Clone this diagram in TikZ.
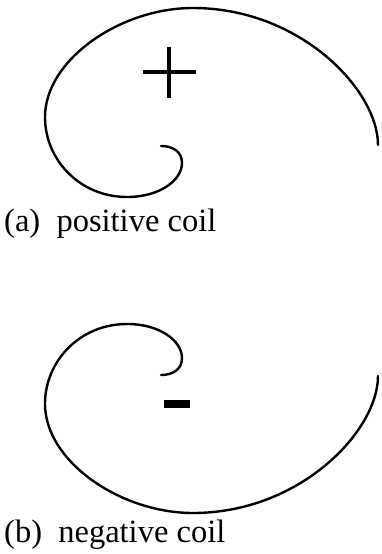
\documentclass[tikz,border=0pt]{standalone}
\usepackage{fontspec}
\setmainfont{Liberation Serif}
\tikzset{
  coilline/.style={line width=2.4pt, line join=round, line cap=round},
  caption/.style={anchor=base west, inner sep=0pt, font=\fontsize{32.5}{36}\selectfont},
}
\newcommand{\coilpath}{(378,145) .. controls (378,90) and (300,8) .. (193,8)
  .. controls (120,8) and (45,60) .. (45,117)
  .. controls (45,160) and (80,197) .. (127,197)
  .. controls (160,197) and (182,180) .. (182,163)
  .. controls (182,151) and (172,146) .. (161,146)}
\begin{document}
\begin{tikzpicture}[x=1pt,y=-1pt]
\useasboundingbox (0,0) rectangle (381,554);
% (a) positive coil
\draw[coilline] \coilpath;
\draw[line width=3.4pt] (143,72) -- (196,72);
\draw[line width=3.4pt] (169,47) -- (169,98);
\node[caption] (capa) at (4,231) {(a)~~positive coil};
% (b) negative coil
\begin{scope}[shift={(0,521)}, yscale=-1]
\draw[coilline] \coilpath;
\end{scope}
\fill (164,400) rectangle (190,408);
\node[caption] (capb) at (4,542) {(b)~~negative coil};
\end{tikzpicture}
\end{document}
